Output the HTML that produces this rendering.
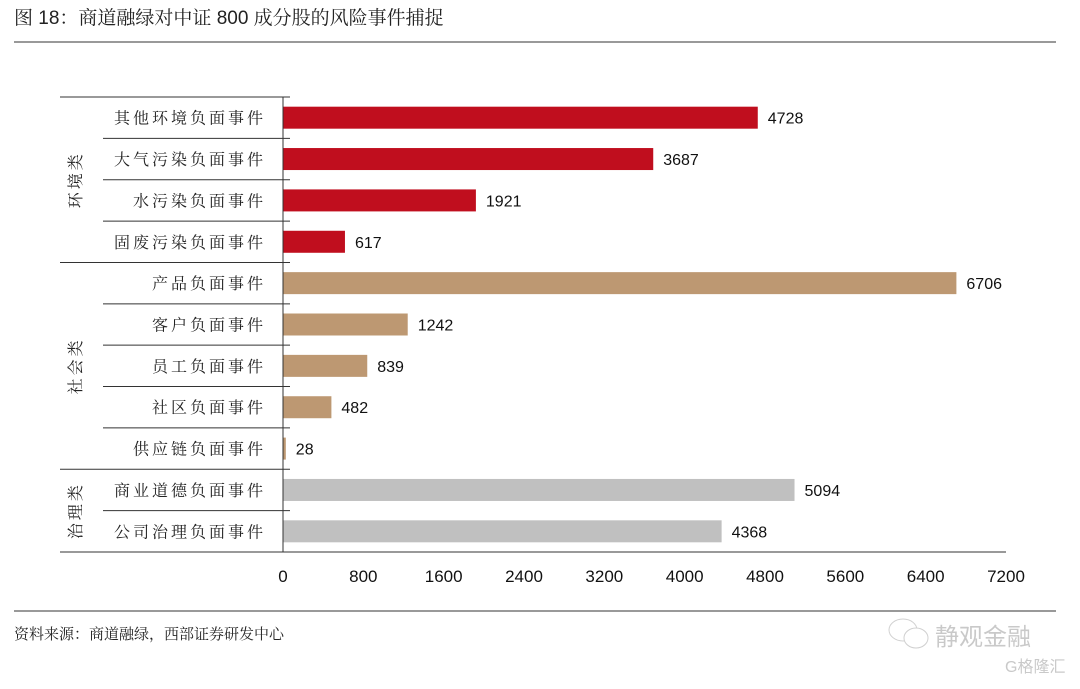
<!DOCTYPE html>
<html><head><meta charset="utf-8">
<style>
body{margin:0;background:#fff;width:1080px;height:684px;overflow:hidden;font-family:"Liberation Sans","Noto Sans CJK SC",sans-serif}
</style></head><body>
<svg width="1080" height="684" xmlns="http://www.w3.org/2000/svg">
<text x="14" y="24" font-size="19" fill="#222" font-family="Liberation Sans,Noto Serif CJK SC,serif">图 18：商道融绿对中证 800 成分股的风险事件捕捉</text>
<line x1="14" y1="42" x2="1056" y2="42" stroke="#333" stroke-width="1"/>
<g id="plot"></g>
<line x1="14" y1="611" x2="1056" y2="611" stroke="#333" stroke-width="1"/>
<text x="14" y="639" font-size="15" fill="#222" font-family="Liberation Sans,Noto Serif CJK SC,serif">资料来源：商道融绿，西部证券研发中心</text>
<g opacity="0.45">
<ellipse cx="903" cy="630" rx="14" ry="11" fill="none" stroke="#999"/>
<ellipse cx="916" cy="638" rx="12" ry="10" fill="#fff" stroke="#999"/>
<text x="935" y="645" font-size="24" fill="#888">静观金融</text>
<text x="1005" y="672" font-size="16" fill="#888">G格隆汇</text>
</g>
</svg>
<script>
const categories=["其他环境负面事件","大气污染负面事件","水污染负面事件","固废污染负面事件","产品负面事件","客户负面事件","员工负面事件","社区负面事件","供应链负面事件","商业道德负面事件","公司治理负面事件"];
const values=[4728,3687,1921,617,6706,1242,839,482,28,5094,4368];
const groupOf=[0,0,0,0,1,1,1,1,1,2,2];
const groups=["环境类","社会类","治理类"];
const groupColors=["#c00e1e","#bd9872","#c0c0c0"];
const ticks=[0,800,1600,2400,3200,4000,4800,5600,6400,7200];
const NS="http://www.w3.org/2000/svg";
const g=document.getElementById("plot");
const x0=283,x1=1006,yTop=97,yBot=552,maxV=7200;
const rowH=(yBot-yTop)/categories.length;
const xs=v=>x0+(v/maxV)*(x1-x0);
function mk(t,a){const e=document.createElementNS(NS,t);for(const k in a)e.setAttribute(k,a[k]);g.appendChild(e);return e;}
categories.forEach((c,i)=>{
 const cy=yTop+rowH*(i+0.5);
 const r=mk("rect",{x:x0,y:cy-11,width:xs(values[i])-x0,height:22,fill:groupColors[groupOf[i]]});
 
 
 const v=mk("text",{x:xs(values[i])+10,y:cy+6,"font-size":16,fill:"#111"});v.textContent=values[i];
 
 
 const l=mk("text",{x:266,y:cy+6,"font-size":16,fill:"#222","text-anchor":"end","letter-spacing":"3","font-family":"Noto Serif CJK SC,serif"});l.textContent=c;
 
 
 if(i>0){const full=groupOf[i]!==groupOf[i-1];
  const ln=mk("line",{x1:full?60:103,x2:290,y1:yTop+rowH*i,y2:yTop+rowH*i,stroke:"#333","stroke-width":1});
  
  }
});
groups.forEach((gn,k)=>{
 const idx=groupOf.map((v,i)=>v===k?i:-1).filter(i=>i>=0);
 const cy=yTop+rowH*((idx[0]+idx[idx.length-1]+1)/2);
 const t=mk("text",{x:0,y:0,"font-size":16,fill:"#222","text-anchor":"middle","letter-spacing":"3",transform:`translate(81,${cy}) rotate(-90)`,"font-family":"Noto Serif CJK SC,serif"});t.textContent=gn;
 
 
});
const tl=mk("line",{x1:60,x2:290,y1:yTop,y2:yTop,stroke:"#333"});


const bl=mk("line",{x1:60,x2:x1,y1:yBot,y2:yBot,stroke:"#333"});


const ya=mk("line",{x1:x0,x2:x0,y1:yTop,y2:yBot,stroke:"#333"});


ticks.forEach(t=>{
 const tx=mk("text",{x:xs(t),y:yBot+30,"font-size":17,fill:"#111","text-anchor":"middle"});tx.textContent=t;
 
 
});
</script>
</body></html>
